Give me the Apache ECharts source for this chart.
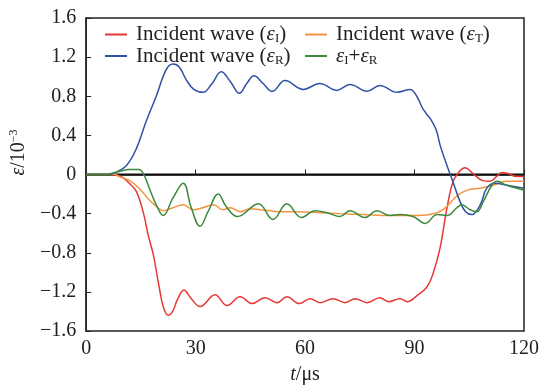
<!DOCTYPE html>
<html>
<head>
<meta charset="utf-8">
<script src="https://cdn.jsdelivr.net/npm/echarts@6/dist/echarts.min.js"></script>
<style>
  html, body { margin: 0; padding: 0; background: #fff; }
  #main { width: 546px; height: 390px; }
</style>
</head>
<body>
<div id="main"></div>
<script>
// [t (us), strain (1e-3)]
var incident = [[0,0],[7,0],[8.5,-0.01],[10,-0.03],[11.8,-0.09],[13.7,-0.17],[15.6,-0.38],[17,-0.62],[18.4,-0.82],[20,-1.15],[21.2,-1.36],[22.5,-1.44],[23.7,-1.40],[25,-1.28],[26.8,-1.18],[28.8,-1.27],[31.2,-1.35],[35.3,-1.23],[38.6,-1.34],[42.2,-1.25],[45.5,-1.32],[49,-1.26],[52.3,-1.31],[55,-1.25],[58.4,-1.32],[61.4,-1.27],[64.1,-1.31],[67.7,-1.27],[71,-1.31],[73.7,-1.27],[77,-1.31],[80.5,-1.26],[82.8,-1.30],[86,-1.27],[88,-1.30],[90.6,-1.24],[93.4,-1.15],[95,-1.02],[97,-0.75],[98.9,-0.34],[100.6,-0.07],[102.5,0.04],[103.8,0.07],[106,0.01],[108.5,-0.06],[110.7,-0.07],[112.5,-0.02],[114,0.02],[115.6,0.01],[118,-0.02],[120,-0.02]];
var transmitted = [[0,0],[8,0],[9,-0.02],[11.8,-0.06],[14.5,-0.14],[17.3,-0.26],[19.7,-0.34],[21.1,-0.37],[23.8,-0.34],[26.6,-0.31],[29.3,-0.36],[32,-0.34],[34.8,-0.31],[37.5,-0.36],[39.5,-0.34],[42.2,-0.38],[45,-0.35],[47.7,-0.36],[50.5,-0.37],[53,-0.38],[57.8,-0.38],[64,-0.39],[69.6,-0.40],[76,-0.41],[83.3,-0.42],[89.6,-0.42],[94,-0.41],[97.8,-0.36],[101.6,-0.22],[104.4,-0.16],[108,-0.14],[111.5,-0.11],[115.3,-0.07],[120,-0.07]];
var reflected = [[0,0],[6,0],[8,0.02],[11,0.09],[13.7,0.26],[16.4,0.54],[19.2,0.80],[21.9,1.07],[23.8,1.13],[25.5,1.10],[27.4,0.97],[29.5,0.87],[32,0.84],[34.5,0.93],[37,1.05],[39.5,0.95],[42,0.83],[44,0.93],[46,1.01],[48.5,0.93],[51,0.85],[54.5,0.96],[59.5,0.87],[64,0.93],[68.7,0.86],[72.3,0.92],[77,0.85],[80.5,0.91],[85.2,0.84],[88.8,0.87],[90.6,0.80],[92.3,0.67],[94.5,0.56],[96,0.45],[97,0.30],[98.9,0.09],[100.3,-0.05],[102.5,-0.28],[104,-0.38],[105.7,-0.41],[108,-0.31],[109.8,-0.14],[112,-0.09],[115.3,-0.11],[120,-0.14]];
var sumIR = [[0,0],[6,0],[6.8,0.01],[9,0.03],[11.8,0.05],[14.5,0.05],[15.9,-0.01],[17.3,-0.14],[19.2,-0.31],[21.1,-0.42],[23.8,-0.24],[26.6,-0.09],[28.8,-0.34],[31.2,-0.53],[33.4,-0.38],[36.2,-0.20],[38.4,-0.33],[41.5,-0.43],[47.2,-0.30],[51.2,-0.46],[55,-0.30],[59,-0.44],[62.7,-0.37],[66,-0.39],[69.6,-0.43],[72.3,-0.37],[76.4,-0.44],[79.7,-0.37],[83.3,-0.42],[86,-0.41],[89.6,-0.43],[92.9,-0.50],[96.2,-0.41],[98.9,-0.42],[101.6,-0.34],[103,-0.31],[105.2,-0.36],[107.1,-0.38],[108.8,-0.28],[111.2,-0.11],[112.6,-0.07],[115.3,-0.11],[120,-0.16]];
var zeroLine = [[0,0],[120,0]];

var names = ['Incident wave (εI)', 'Incident wave (εT)', 'Incident wave (εR)', 'εI+εR'];
var colors = ['#e53935', '#f3953f', '#2f52a4', '#3b8a3c'];

var font = 'Liberation Serif';
var rich = {
  f: { fontFamily: font, fontSize: 21, color: '#222', padding: [0, 0, 0, 4] },
  t: { fontFamily: font, fontSize: 21, color: '#222' },
  e: { fontFamily: font, fontSize: 21, fontStyle: 'italic', color: '#222' },
  g: { fontFamily: font, fontSize: 21, fontStyle: 'italic', color: '#222', padding: [0, 0, 0, 4] },
  s: { fontFamily: font, fontSize: 13, color: '#222', padding: [9, 0, 0, 0] }
};
var legendText = {};
legendText[names[0]] = '{f|Incident wave (}{e|ε}{s|I}{t|)}';
legendText[names[1]] = '{f|Incident wave (}{e|ε}{s|T}{t|)}';
legendText[names[2]] = '{f|Incident wave (}{e|ε}{s|R}{t|)}';
legendText[names[3]] = '{g|ε}{s|I}{t|+}{e|ε}{s|R}';

var chart = echarts.init(document.getElementById('main'));
var legendCommon = {
  orient: 'vertical',
  top: 19,
  icon: 'rect',
  itemWidth: 22,
  itemHeight: 2,
  itemGap: 0,
  formatter: function (name) { return legendText[name]; },
  textStyle: { rich: rich, lineHeight: 21 }
};
function line(name, data, color) {
  return {
    name: name,
    type: 'line',
    data: data,
    smooth: 0.4,
    showSymbol: false,
    lineStyle: { color: color, width: 1.5 },
    itemStyle: { color: color }
  };
}
var option = {
  animation: false,
  backgroundColor: '#fff',
  textStyle: { fontFamily: font },
  grid: { left: 86, right: 22, top: 18, bottom: 56, show: true, borderColor: '#222', borderWidth: 1.5 },
  legend: [
    Object.assign({ left: 100, data: [names[0], names[2]] }, legendCommon),
    Object.assign({ left: 300, data: [names[1], names[3]] }, legendCommon)
  ],
  xAxis: {
    type: 'value',
    min: 0,
    max: 120,
    interval: 30,
    name: '{i|t}{n|/μs}',
    nameLocation: 'middle',
    nameGap: 34,
    nameTextStyle: {
      rich: {
        i: { fontFamily: font, fontSize: 20, fontStyle: 'italic', color: '#222' },
        n: { fontFamily: font, fontSize: 20, color: '#222' }
      }
    },
    splitLine: { show: false },
    axisLine: { lineStyle: { color: '#222', width: 1.5 } },
    axisTick: { inside: true, length: 5, lineStyle: { color: '#222' } },
    axisLabel: { fontFamily: font, fontSize: 20, color: '#222', margin: 8 }
  },
  yAxis: {
    type: 'value',
    min: -1.6,
    max: 1.6,
    interval: 0.4,
    name: '{e|ε}{n|/10}{p|−3}',
    nameLocation: 'middle',
    nameRotate: 90,
    nameGap: 56,
    nameTextStyle: {
      padding: [0, 0, 0, 44],
      rich: {
        e: { fontFamily: font, fontSize: 20, fontStyle: 'italic', color: '#222' },
        n: { fontFamily: font, fontSize: 20, color: '#222' },
        p: { fontFamily: font, fontSize: 12, color: '#222', padding: [0, 0, 10, 0] }
      }
    },
    splitLine: { show: false },
    axisLine: { lineStyle: { color: '#222', width: 1.5 } },
    axisTick: { inside: true, length: 5, lineStyle: { color: '#222' } },
    axisLabel: {
      fontFamily: font, fontSize: 20, color: '#222', margin: 10,
      formatter: function (v) {
        if (Math.abs(v) < 1e-9) return '0';
        return (v < 0 ? '−' : '') + Math.abs(v).toFixed(1);
      }
    }
  },
  series: [
    line(names[0], incident, colors[0]),
    line(names[1], transmitted, colors[1]),
    line(names[2], reflected, colors[2]),
    line(names[3], sumIR, colors[3]),
    {
      name: 'zero',
      type: 'line',
      data: zeroLine,
      showSymbol: false,
      silent: true,
      z: 1,
      lineStyle: { color: '#111', width: 2 }
    }
  ]
};
chart.setOption(option);
</script>
</body>
</html>
